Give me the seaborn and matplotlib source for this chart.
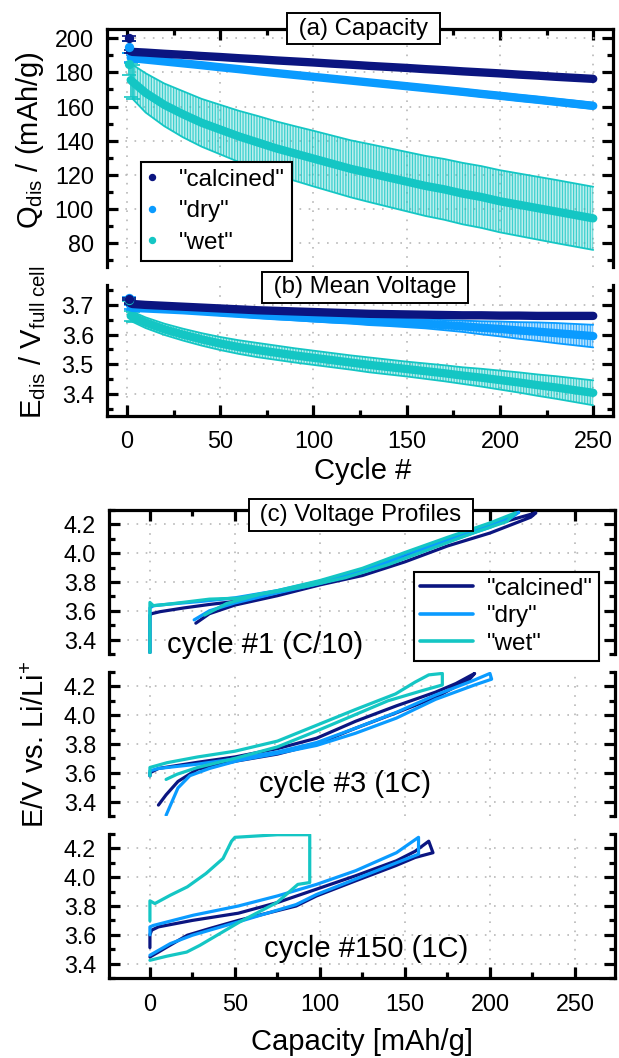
import matplotlib
matplotlib.use("Agg")
import matplotlib.pyplot as plt
import seaborn as sns
from matplotlib.lines import Line2D
from matplotlib.ticker import MultipleLocator
from matplotlib.colors import to_rgba

sns.set_theme(style="white")
plt.rcParams["font.family"] = ["Liberation Sans", "DejaVu Sans"]
plt.rcParams.update({
    "mathtext.fontset": "custom",
    "mathtext.rm": "Liberation Sans",
    "mathtext.it": "Liberation Sans:italic",
    "mathtext.bf": "Liberation Sans:bold",
    "hatch.linewidth": 0.9,
    "axes.edgecolor": "black",
    "axes.linewidth": 2.3,
    "text.color": "black",
    "axes.labelcolor": "black",
    "xtick.color": "black",
    "ytick.color": "black",
})

# ---------------- data ----------------
materials = ['"calcined"', '"dry"', '"wet"']
colors = ["#0b1580", "#0a9bff", "#14c6c4"]

cycles = [1, 2, 3, 10, 20, 30, 40, 50, 60, 70, 80, 90, 100, 110, 120, 130,
          140, 150, 160, 170, 180, 190, 200, 210, 220, 230, 240, 250]

# discharge capacity (mAh/g), mean and spread
q_calcined = [200.0, 192.3, 192.0, 191.6, 190.9, 190.3, 189.6, 189.0, 188.3, 187.7,
              187.0, 186.4, 185.8, 185.1, 184.5, 183.8, 183.2, 182.6, 181.9, 181.3,
              180.6, 180.0, 179.4, 178.7, 178.1, 177.4, 176.8, 176.2]
q_calcined_err = [1.5, 1.0, 0.8, 0.8, 0.8, 0.8, 0.8, 0.8, 0.8, 0.8, 0.8, 0.8, 0.8, 0.8,
                  0.8, 0.8, 0.8, 0.8, 0.8, 0.8, 0.8, 0.8, 0.8, 0.8, 0.8, 0.8, 0.8, 0.8]
q_dry = [194.7, 188.6, 188.3, 187.5, 186.4, 185.3, 184.2, 183.0, 181.9, 180.7,
         179.6, 178.5, 177.4, 176.3, 175.2, 174.1, 173.0, 171.9, 170.8, 169.7,
         168.6, 167.4, 166.3, 165.1, 164.0, 162.8, 161.6, 160.4]
q_dry_err = [3.5, 2.5, 2.0, 1.2, 1.2, 1.2, 1.2, 1.2, 1.3, 1.3, 1.3, 1.3, 1.4, 1.4,
             1.4, 1.4, 1.5, 1.5, 1.5, 1.5, 1.6, 1.6, 1.6, 1.7, 1.7, 1.7, 1.8, 1.8]
q_wet = [185.0, 175.5, 174.5, 168.0, 161.0, 155.5, 150.5, 146.5, 142.5, 139.0,
         135.5, 132.5, 129.5, 126.5, 123.5, 121.0, 118.5, 116.0, 113.5, 111.5,
         109.0, 107.0, 104.5, 102.5, 100.5, 98.5, 96.5, 94.5]
q_wet_err = [6.5, 10.0, 10.0, 11.5, 12.5, 13.5, 14.0, 14.5, 15.0, 15.5, 15.8, 16.0,
             16.3, 16.5, 16.7, 17.0, 17.2, 17.4, 17.6, 17.8, 18.0, 18.1, 18.2, 18.3,
             18.4, 18.5, 18.5, 18.5]

# mean discharge voltage (V), mean and spread
e_calcined = [3.720, 3.705, 3.703, 3.700, 3.697, 3.694, 3.691, 3.688, 3.685, 3.682,
              3.680, 3.678, 3.676, 3.674, 3.672, 3.670, 3.669, 3.668, 3.667, 3.666,
              3.665, 3.665, 3.664, 3.664, 3.663, 3.663, 3.663, 3.663]
e_calcined_err = [0.004, 0.003, 0.003, 0.003, 0.003, 0.003, 0.003, 0.003, 0.003, 0.003,
                  0.003, 0.003, 0.003, 0.003, 0.003, 0.003, 0.003, 0.003, 0.003, 0.003,
                  0.003, 0.003, 0.003, 0.003, 0.003, 0.003, 0.003, 0.003]
e_dry = [3.722, 3.692, 3.690, 3.688, 3.685, 3.682, 3.678, 3.674, 3.670, 3.666,
         3.662, 3.659, 3.655, 3.652, 3.649, 3.645, 3.642, 3.639, 3.636, 3.632,
         3.628, 3.623, 3.619, 3.614, 3.610, 3.605, 3.600, 3.595]
e_dry_err = [0.005, 0.006, 0.006, 0.007, 0.007, 0.008, 0.008, 0.009, 0.009, 0.010,
             0.010, 0.011, 0.011, 0.012, 0.012, 0.013, 0.013, 0.014, 0.015, 0.017,
             0.019, 0.022, 0.025, 0.028, 0.031, 0.034, 0.036, 0.038]
e_wet = [3.718, 3.663, 3.660, 3.640, 3.618, 3.600, 3.584, 3.570, 3.558, 3.548,
         3.539, 3.530, 3.522, 3.514, 3.506, 3.498, 3.491, 3.484, 3.477, 3.470,
         3.462, 3.455, 3.447, 3.439, 3.430, 3.422, 3.413, 3.404]
e_wet_err = [0.006, 0.017, 0.017, 0.018, 0.019, 0.020, 0.021, 0.022, 0.023, 0.024,
             0.024, 0.024, 0.024, 0.024, 0.024, 0.025, 0.025, 0.025, 0.026, 0.027,
             0.028, 0.030, 0.032, 0.034, 0.036, 0.038, 0.040, 0.042]

# voltage profiles: charge followed by discharge (capacity mAh/g, potential V)
cyc1_calcined_cap = [0, 0, 1, 6, 20, 35, 50, 75, 100, 125, 150, 175, 200, 215, 227,
                     224, 200, 175, 150, 125, 100, 75, 50, 35, 27]
cyc1_calcined_v = [3.31, 3.57, 3.58, 3.594, 3.62, 3.644, 3.665, 3.73, 3.805, 3.875,
                   3.985, 4.095, 4.19, 4.24, 4.28, 4.25, 4.14, 4.05, 3.94, 3.845,
                   3.78, 3.705, 3.64, 3.58, 3.514]
cyc1_dry_cap = [0, 0, 2, 10, 30, 50, 75, 100, 125, 150, 175, 200, 217,
                213, 200, 175, 150, 125, 100, 75, 50, 35, 26]
cyc1_dry_v = [3.31, 3.62, 3.635, 3.645, 3.665, 3.69, 3.74, 3.805, 3.885, 3.995,
              4.10, 4.20, 4.285, 4.25, 4.18, 4.08, 3.97, 3.87, 3.79, 3.725, 3.655,
              3.60, 3.537]
cyc1_wet_cap = [0, 0, 2, 10, 35, 52, 75, 100, 125, 150, 175, 200, 215,
                210, 190, 165, 140, 115, 90, 65, 45, 32]
cyc1_wet_v = [3.31, 3.658, 3.636, 3.645, 3.681, 3.688, 3.74, 3.81, 3.895, 4.005,
              4.11, 4.21, 4.28, 4.22, 4.14, 4.03, 3.92, 3.83, 3.765, 3.715, 3.65, 3.57]

cyc3_calcined_cap = [0, 0, 5, 28, 50, 75, 98, 121, 145, 168, 180, 191,
                     188, 168, 145, 121, 98, 75, 50, 28, 16.5, 9.5, 5]
cyc3_calcined_v = [3.578, 3.60, 3.63, 3.673, 3.71, 3.768, 3.84, 3.958, 4.065, 4.16,
                   4.22, 4.29, 4.25, 4.124, 4.017, 3.91, 3.80, 3.73, 3.68, 3.625,
                   3.54, 3.447, 3.376]
cyc3_dry_cap = [0, 0, 5, 28, 52, 75, 98, 121, 145, 168, 190, 200,
                201, 191, 168, 145, 121, 98, 75, 52, 35, 23.5, 16.5, 9.5]
cyc3_dry_v = [3.58, 3.614, 3.63, 3.66, 3.70, 3.745, 3.81, 3.91, 4.02, 4.14, 4.24,
              4.29, 4.25, 4.21, 4.11, 3.98, 3.875, 3.79, 3.735, 3.685, 3.63, 3.58,
              3.495, 3.305]
cyc3_wet_cap = [0, 0, 10, 28, 50, 75, 98, 121, 144.5, 156, 164, 172,
                172, 160, 140, 120, 98, 75, 50, 28, 16, 9.5]
cyc3_wet_v = [3.58, 3.637, 3.67, 3.71, 3.75, 3.82, 3.93, 4.04, 4.148, 4.23, 4.28,
              4.29, 4.21, 4.17, 4.10, 4.00, 3.89, 3.78, 3.70, 3.637, 3.59, 3.554]

cyc150_calcined_cap = [0, 0, 1, 5, 25, 52, 75, 98, 121, 145, 156, 164,
                       166.5, 156, 144.5, 121, 98, 86, 52, 35, 22, 10, 5, 0]
cyc150_calcined_v = [3.511, 3.60, 3.632, 3.655, 3.70, 3.75, 3.824, 3.917, 4.01,
                     4.114, 4.18, 4.25, 4.17, 4.137, 4.08, 3.975, 3.87, 3.80, 3.70,
                     3.643, 3.597, 3.515, 3.48, 3.446]
cyc150_dry_cap = [0, 0, 2, 5, 25.5, 52, 75, 98, 121, 145, 158,
                  158, 145, 121, 98, 86, 52, 25, 12, 0]
cyc150_dry_v = [3.60, 3.655, 3.665, 3.674, 3.736, 3.80, 3.87, 3.95, 4.045, 4.17,
                4.277, 4.16, 4.10, 3.987, 3.88, 3.81, 3.69, 3.597, 3.539, 3.458]
cyc150_wet_cap = [0, 0, 2.9, 12, 22, 33, 43, 48, 50, 75, 94,
                  94, 87, 74.7, 52.9, 41.2, 29.4, 21.6, 9.8, 0]
cyc150_wet_v = [3.697, 3.836, 3.817, 3.875, 3.933, 4.026, 4.13, 4.25, 4.277, 4.295,
                4.295, 3.963, 3.95, 3.824, 3.69, 3.609, 3.527, 3.48, 3.451, 3.423]

profile_titles = ["cycle #1 (C/10)", "cycle #3 (1C)", "cycle #150 (1C)"]
profile_title_pos = [(10, 3.36), (64, 3.52), (67, 3.50)]

# ---------------- layout ----------------
W, H = 619, 1058
fig = plt.figure(figsize=(W / 100, H / 100), dpi=100)


def add_ax(left, top, right, bottom):
    return fig.add_axes([left / W, 1 - bottom / H, (right - left) / W, (bottom - top) / H])


ax_a = add_ax(107, 28.5, 613, 267)
ax_b = add_ax(107, 285, 613, 415.7)
ax_c = [add_ax(109.3, 510, 615.4, 654),
        add_ax(109.3, 672, 615.4, 816),
        add_ax(109.3, 834, 615.4, 978)]

TICK_FS = 16.8
LABEL_FS = 21
BOX_FS = 17.3
GRID_KW = dict(color="#b8b8b8", linewidth=1.2, linestyle=(0, (1, 4.5)))


def style_axes(ax, xmajor, xminor, ymajor, yminor):
    ax.set_facecolor("white")
    for s in ax.spines.values():
        s.set_linewidth(2.3)
        s.set_color("black")
    ax.xaxis.set_major_locator(MultipleLocator(xmajor))
    ax.xaxis.set_minor_locator(MultipleLocator(xminor))
    ax.yaxis.set_major_locator(MultipleLocator(ymajor))
    ax.yaxis.set_minor_locator(MultipleLocator(yminor))
    ax.tick_params(which="both", direction="in", width=2.3, colors="black",
                   labelcolor="black", left=True, right=True, labelsize=TICK_FS)
    ax.tick_params(which="major", length=8)
    ax.tick_params(which="minor", length=4.2)
    ax.tick_params(axis="y", pad=9.5)
    ax.grid(True, which="major", **GRID_KW)
    ax.set_axisbelow(True)


def title_box(ax, text, x, y):
    ax.text(x, y, " " + text + " ", transform=ax.transAxes, ha="center", va="center",
            fontsize=BOX_FS, zorder=20, color="black",
            bbox=dict(boxstyle="square,pad=0.2", fc="white", ec="black", lw=1.4))


def trend(ax, x, y, err, color, lw_main, first_marker_s):
    # spread band (dense vertical hatching like stacked error bars)
    lo = [m - e for m, e in zip(y[2:], err[2:])]
    hi = [m + e for m, e in zip(y[2:], err[2:])]
    ax.fill_between(x[2:], lo, hi, facecolor=to_rgba(color, 0.28),
                    edgecolor=to_rgba(color, 0.75), hatch="||||||", linewidth=0, zorder=2)
    sns.lineplot(x=x[2:], y=lo, ax=ax, color=color, lw=1.3, zorder=2, legend=False)
    sns.lineplot(x=x[2:], y=hi, ax=ax, color=color, lw=1.3, zorder=2, legend=False)
    ax.errorbar(x[:3], y[:3], yerr=err[:3], fmt="none", ecolor=color, elinewidth=1.2,
                capsize=4.7, capthick=1.2, zorder=3)
    # 1C cycles drawn as a dense marker trail, first cycle as its own marker
    sns.lineplot(x=x[1:], y=y[1:], ax=ax, color=color, lw=lw_main, zorder=4,
                 solid_capstyle="round", legend=False)
    sns.scatterplot(x=x[:1], y=y[:1], ax=ax, color=color, s=first_marker_s,
                    linewidth=0, zorder=5, legend=False)


# ---------------- (a) capacity ----------------
style_axes(ax_a, 50, 25, 20, 10)
for q, qe, col in [(q_wet, q_wet_err, colors[2]), (q_dry, q_dry_err, colors[1]),
                   (q_calcined, q_calcined_err, colors[0])]:
    trend(ax_a, cycles, q, qe, col, 6.0, 45)
ax_a.set_xlim(-10.7, 260.6)
ax_a.set_ylim(66, 205.7)
ax_a.spines["bottom"].set_visible(False)
ax_a.tick_params(axis="x", which="both", bottom=False, top=True, labelbottom=False)
ax_a.set_ylabel(r"Q$_{\rm dis}$ / (mAh/g)", fontsize=LABEL_FS, va="center")
ax_a.yaxis.set_label_coords(-0.152, 0.532)
title_box(ax_a, "(a) Capacity", 0.507, 1.0)
handles_a = [Line2D([], [], marker="o", ls="", color=c, markersize=4.3) for c in colors]
leg_a = ax_a.legend(handles_a, materials, loc="upper left",
                    bbox_to_anchor=(141 / W, 1 - 161.7 / H), bbox_transform=fig.transFigure,
                    borderaxespad=0, fontsize=17.5, frameon=True, fancybox=False,
                    framealpha=1, edgecolor="black", handlelength=0.3, handletextpad=0.95,
                    borderpad=0.3, labelspacing=0.38)
leg_a.get_frame().set_linewidth(1.5)
leg_a.set_zorder(30)

# ---------------- (b) mean voltage ----------------
style_axes(ax_b, 50, 25, 0.1, 0.05)
for e, ee, col in [(e_wet, e_wet_err, colors[2]), (e_dry, e_dry_err, colors[1]),
                   (e_calcined, e_calcined_err, colors[0])]:
    trend(ax_b, cycles, e, ee, col, 6.0, 45)
ax_b.set_xlim(-10.7, 260.6)
ax_b.set_ylim(3.327, 3.767)
ax_b.spines["top"].set_visible(False)
ax_b.tick_params(axis="x", which="both", bottom=True, top=False, labelbottom=True, pad=10)
ax_b.set_ylabel(r"E$_{\rm dis}$ / V$_{\rm full\ cell}$", fontsize=LABEL_FS, va="center")
ax_b.yaxis.set_label_coords(-0.148, 0.564)
ax_b.set_xlabel("Cycle #", fontsize=LABEL_FS, va="center")
ax_b.xaxis.set_label_coords(0.506, -0.423)
title_box(ax_b, "(b) Mean Voltage", 0.51, 0.982)

# ---------------- (c) voltage profiles ----------------
profiles = [
    [(cyc1_calcined_cap, cyc1_calcined_v), (cyc1_dry_cap, cyc1_dry_v), (cyc1_wet_cap, cyc1_wet_v)],
    [(cyc3_calcined_cap, cyc3_calcined_v), (cyc3_dry_cap, cyc3_dry_v), (cyc3_wet_cap, cyc3_wet_v)],
    [(cyc150_calcined_cap, cyc150_calcined_v), (cyc150_dry_cap, cyc150_dry_v),
     (cyc150_wet_cap, cyc150_wet_v)],
]
for i, ax in enumerate(ax_c):
    style_axes(ax, 50, 25, 0.2, 0.1)
    for (cap, v), col in zip(profiles[i], colors):
        sns.lineplot(x=cap, y=v, ax=ax, color=col, lw=2.3, sort=False, estimator=None,
                     legend=False, zorder=3)
    ax.set_xlim(-23.9, 273.8)
    ax.set_ylim(3.30, 4.30)
    ax.text(*profile_title_pos[i], profile_titles[i], fontsize=LABEL_FS, ha="left",
            va="center", zorder=6, color="black")
    ax.tick_params(axis="x", which="both", bottom=(i == 2), top=(i == 0),
                   labelbottom=(i == 2), labeltop=False, pad=11)
    if i > 0:
        ax.spines["top"].set_visible(False)
    if i < 2:
        ax.spines["bottom"].set_visible(False)

title_box(ax_c[0], "(c) Voltage Profiles", 0.497, 0.965)
handles_c = [Line2D([], [], color=c, lw=2.6) for c in colors]
leg_c = ax_c[0].legend(handles_c, materials, loc="upper left",
                       bbox_to_anchor=(413.5 / W, 1 - 571.7 / H), bbox_transform=fig.transFigure,
                       borderaxespad=0, fontsize=17.5, frameon=True, fancybox=False,
                       framealpha=1, edgecolor="black", handlelength=2.2, handletextpad=0.56,
                       borderpad=0.25, labelspacing=0.22)
leg_c.get_frame().set_linewidth(1.5)
leg_c.set_zorder(30)

ax_c[1].set_ylabel(r"E/V vs. Li/Li$^{+}$", fontsize=LABEL_FS, va="center")
ax_c[1].yaxis.set_label_coords(-0.145, 0.493)
ax_c[2].set_xlabel("Capacity [mAh/g]", fontsize=LABEL_FS, va="center")
ax_c[2].xaxis.set_label_coords(0.5, -0.444)

fig.savefig("out.png", dpi=100, facecolor="white")
